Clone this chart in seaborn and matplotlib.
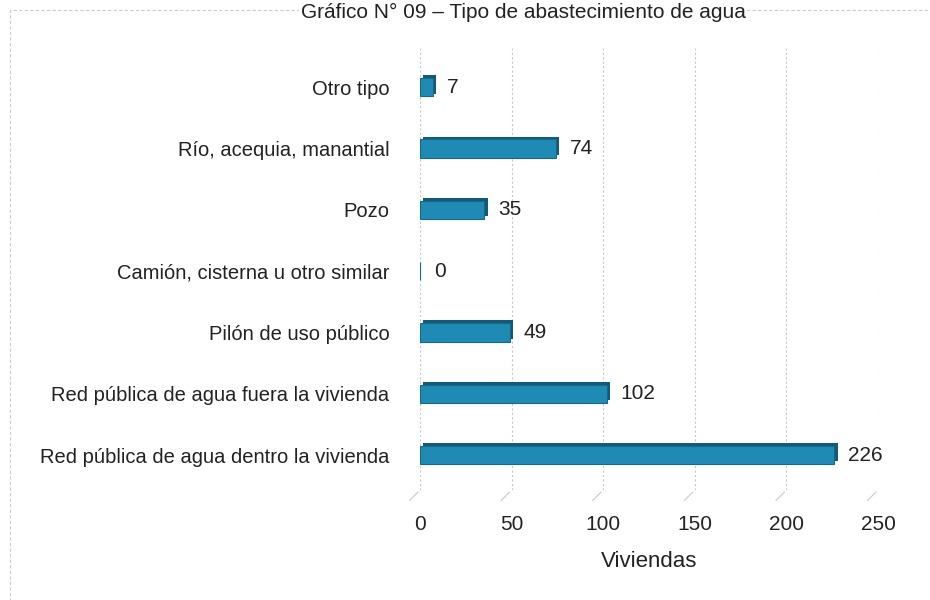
import pandas as pd
import matplotlib.pyplot as plt
import matplotlib.patheffects as pe
import seaborn as sns
from matplotlib.patches import Rectangle

data = pd.DataFrame({
    'Tipo': ['Otro tipo', 'Río, acequia, manantial', 'Pozo',
             'Camión, cisterna u otro similar', 'Pilón de uso público',
             'Red pública de agua fuera la vivienda',
             'Red pública de agua dentro la vivienda'],
    'Viviendas': [7, 74, 35, 0, 49, 102, 226],
})

sns.set_style('white')
plt.rcParams['font.family'] = ['Liberation Sans Narrow', 'Liberation Sans', 'DejaVu Sans']

fig = plt.figure(figsize=(9.3, 6), dpi=100)
ax = fig.add_axes([420 / 930, 1 - 490 / 600, 458 / 930, 442 / 600])

sns.barplot(data=data, y='Tipo', x='Viviendas', orient='h', color='#1f8ab4',
            width=0.3, edgecolor='#16698a', linewidth=0.8, saturation=1, ax=ax)

# fake 3D depth
for bar in ax.patches:
    bar.set_path_effects([pe.SimplePatchShadow(offset=(2.5, 2), shadow_rgbFace='#125a76', alpha=1),
                          pe.Normal()])

for i, v in enumerate(data['Viviendas']):
    ax.annotate(str(v), xy=(v, i), xytext=(10, 0), textcoords='offset points',
                va='center', ha='left', fontsize=15, color='#222222')

ax.set_xlim(0, 250)
ax.set_ylim(6.57, -0.64)
ax.set_xticks(range(0, 251, 50))
ax.grid(axis='x', color='#c8c8c8', linestyle=(0, (2, 2)), linewidth=0.8)
ax.grid(axis='y', visible=False)
for s in ax.spines.values():
    s.set_visible(False)
ax.tick_params(axis='x', length=0, pad=18, labelsize=15, labelcolor='#222222')
ax.tick_params(axis='y', length=0, pad=22, labelsize=14.5, labelcolor='#222222')
ax.set_ylabel('')
ax.set_xlabel('Viviendas', fontsize=16, color='#222222', labelpad=12)

# little slanted floor ticks
for t in range(0, 251, 50):
    ax.annotate('', xy=(t, 0), xycoords=('data', 'axes fraction'),
                xytext=(-9, -9), textcoords='offset points',
                arrowprops=dict(arrowstyle='-', color='#c8c8c8', lw=0.8))

fig.patches.append(Rectangle((10 / 930, -0.02), 0.99, 1 - 10 / 600 + 0.02,
                             transform=fig.transFigure, fill=False,
                             edgecolor='#cccccc', linestyle=(0, (3, 2)), linewidth=0.8))

fig.text(523 / 930, 1 - 18 / 600, 'Gráfico N° 09 – Tipo de abastecimiento de agua',
         ha='center', va='baseline', fontsize=15, color='#222222',
         bbox=dict(facecolor='white', edgecolor='none', pad=1))

fig.savefig('out.png', dpi=100)
